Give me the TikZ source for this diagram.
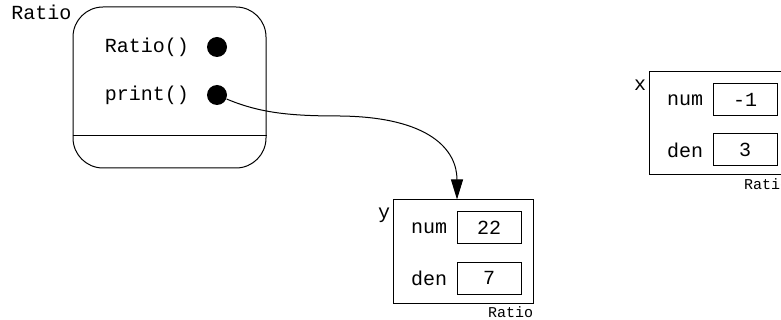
\documentclass[tikz,border=0pt]{standalone}
\usepackage{fontspec}
\setmonofont{Liberation Mono}
\usetikzlibrary{arrows.meta,positioning}

\begin{document}
\begin{tikzpicture}[x=1pt, y=-1pt, line width=1pt,
  font=\ttfamily\fontsize{20}{24}\selectfont,
  cls/.style={draw, rounded corners=30pt, minimum width=193pt, minimum height=161pt, inner sep=0pt},
  obj/.style={draw, minimum width=140pt, minimum height=103pt, inner sep=0pt},
  slot/.style={draw, minimum width=64pt, minimum height=32pt, inner sep=0pt},
  meth/.style={circle, fill=black, minimum size=20pt, inner sep=0pt},
  txt/.style={inner sep=0pt},
  tag/.style={inner sep=0pt, font=\ttfamily\fontsize{15}{18}\selectfont},
  arr/.style={-{Triangle[length=20pt, width=12pt]}}
]
\useasboundingbox (0,0) rectangle (781,320);

% class Ratio
\node[cls] (ratio) at (169.5,87.5) {};
\node[txt, anchor=base east] (clsname) at (72,20) {Ratio};
\node[meth] (ctor) at (217,47) {};
\node[meth] (prn) at (217,95) {};
\node[txt, left=17pt of ctor] (ctorname) {Ratio()};
\node[txt, left=17pt of prn] (prnname) {print()};
\coordinate (divy) at (0,136);
\draw (ratio.west |- divy) -- (ratio.east |- divy);

% object y
\node[obj] (yobj) at (463,251.5) {};
\node[txt, anchor=base east] (yname) at ([xshift=-2pt, yshift=-19pt]yobj.north west) {y};
\node[slot, anchor=north east, below left=12pt and 12pt of yobj.north east] (ynum) {22};
\node[slot, below=17pt of ynum] (yden) {7};
\node[txt, left=9pt of ynum] (ynumlab) {num};
\node[txt, left=9pt of yden] (ydenlab) {den};
\node[tag, anchor=north east] (ytype) at ([yshift=-3pt]yobj.south east) {Ratio};

% object x
\node[obj] (xobj) at (719,123.5) {};
\node[txt, anchor=base east] (xname) at ([xshift=-2pt, yshift=-19pt]xobj.north west) {x};
\node[slot, anchor=north east, below left=12pt and 12pt of xobj.north east] (xnum) {-1};
\node[slot, below=17pt of xnum] (xden) {3};
\node[txt, left=9pt of xnum] (xnumlab) {num};
\node[txt, left=9pt of xden] (xdenlab) {den};
\node[tag, anchor=north east] (xtype) at ([yshift=-3pt]xobj.south east) {Ratio};

% print() call
\coordinate (bend) at (340,116);
\coordinate (ytop) at ([xshift=-6pt]yobj.north);
\draw[arr] (prn) .. controls (260,113) and (290,116) .. (bend)
  .. controls (430,117) and (457,150) .. (ytop);
\end{tikzpicture}
\end{document}
